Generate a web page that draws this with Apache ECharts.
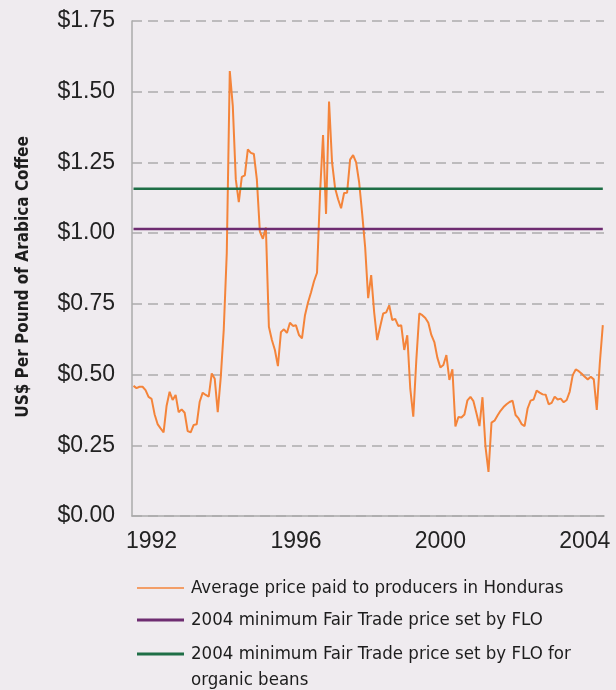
<!DOCTYPE html>
<html>
<head>
<meta charset="utf-8">
<title>Honduras coffee producer prices</title>
<script src="https://cdn.jsdelivr.net/npm/echarts@6/dist/echarts.min.js"></script>
<style>
  html, body { margin: 0; padding: 0; background: #EFEBEF; }
  #chart { width: 616px; height: 690px; }
</style>
</head>
<body>
<div id="chart"></div>
<script>
// Monthly average price paid to Honduran producers (US$ per pound), July 1991 onward
const firstYear = 1991;
const firstMonth = 7;
const producerPrice = [
  0.460, 0.452, 0.457, 0.457, 0.445, 0.421, 0.414, 0.360, 0.325, 0.310,
  0.296, 0.390, 0.439, 0.410, 0.428, 0.367, 0.377, 0.365, 0.300, 0.296,
  0.322, 0.324, 0.404, 0.436, 0.428, 0.422, 0.504, 0.485, 0.367, 0.490,
  0.660, 0.930, 1.573, 1.450, 1.190, 1.110, 1.199, 1.204, 1.296, 1.284,
  1.280, 1.190, 1.005, 0.980, 1.020, 0.669, 0.622, 0.587, 0.530, 0.650,
  0.660, 0.647, 0.683, 0.672, 0.674, 0.640, 0.628, 0.710, 0.755, 0.790,
  0.830, 0.860, 1.140, 1.347, 1.068, 1.465, 1.250, 1.160, 1.120, 1.088,
  1.142, 1.143, 1.260, 1.276, 1.250, 1.180, 1.070, 0.950, 0.770, 0.852,
  0.720, 0.622, 0.670, 0.716, 0.720, 0.745, 0.693, 0.697, 0.672, 0.674,
  0.587, 0.639, 0.450, 0.351, 0.550, 0.716, 0.710, 0.700, 0.683, 0.640,
  0.615, 0.560, 0.525, 0.534, 0.569, 0.481, 0.519, 0.317, 0.350, 0.348,
  0.359, 0.409, 0.421, 0.406, 0.363, 0.318, 0.420, 0.245, 0.156, 0.330,
  0.337, 0.355, 0.372, 0.385, 0.395, 0.403, 0.408, 0.357, 0.345, 0.325,
  0.318, 0.380, 0.408, 0.412, 0.443, 0.436, 0.430, 0.429, 0.395, 0.400,
  0.422, 0.412, 0.415, 0.402, 0.410, 0.440, 0.498, 0.518, 0.512, 0.503,
  0.492, 0.483, 0.492, 0.483, 0.375, 0.540, 0.675
];

// 2004 FLO minimum prices (US$ per pound)
const floMinimum = 1.015;
const floOrganicMinimum = 1.157;

const yearTicks = [1992, 1996, 2000, 2004];
const priceTicks = [0, 0.25, 0.5, 0.75, 1.0, 1.25, 1.5, 1.75];

const seriesNames = [
  'Average price paid to producers in Honduras',
  '2004 minimum Fair Trade price set by FLO',
  '2004 minimum Fair Trade price set by FLO for\norganic beans'
];

const colors = { price: '#F4843A', flo: '#6E2C71', organic: '#1E6E46' };

// decimal-year position of each monthly observation
const monthPos = producerPrice.map((_, i) => firstYear + (firstMonth - 1 + i) / 12);
const priceData = producerPrice.map((v, i) => [monthPos[i], v]);
const xStart = monthPos[0];
const xEnd = monthPos[monthPos.length - 1];

const narrow = '"DejaVu Sans Condensed", "Liberation Sans Narrow", "DejaVu Sans", sans-serif';
const plain = '"Liberation Sans", Arial, sans-serif';

// flat legend swatches; aspect ratio is kept so they stay thin bars.
// The two-line entry uses a swatch whose empty lower part keeps the bar level with its first line.
const thinBar = 'path://M0,0H47V1.6H0Z';
const thickBar = 'path://M0,0H47V2.8H0Z';
const thickBarTop = 'path://M0,0H47V2.8H0ZM0,28.8L47,28.8Z';

const legendText = { fontFamily: narrow, fontSize: 18.5, color: '#1d1d1d', padding: [0, 0, 0, 2] };

const chart = echarts.init(document.getElementById('chart'), null, { renderer: 'canvas' });

chart.setOption({
  backgroundColor: '#EFEBEF',
  animation: false,
  grid: { left: 132, right: 12, top: 21, bottom: 174, containLabel: false },
  legend: [
    {
      orient: 'vertical',
      left: 132,
      top: 571,
      height: 100,
      itemWidth: 47,
      itemHeight: 14,
      itemGap: 8,
      selectedMode: false,
      itemStyle: { borderWidth: 0 },
      textStyle: Object.assign({ lineHeight: 24 }, legendText),
      data: [
        { name: seriesNames[0], icon: thinBar, itemStyle: { color: colors.price } },
        { name: seriesNames[1], icon: thickBar, itemStyle: { color: colors.flo } }
      ]
    },
    {
      orient: 'vertical',
      left: 132,
      top: 636,
      height: 80,
      itemWidth: 47,
      itemHeight: 52,
      selectedMode: false,
      itemStyle: { borderWidth: 0 },
      textStyle: Object.assign({ lineHeight: 26 }, legendText),
      data: [
        { name: seriesNames[2], icon: thickBarTop, itemStyle: { color: colors.organic } }
      ]
    }
  ],
  xAxis: {
    type: 'value',
    min: 1991.458,
    max: 2004.533,
    splitLine: { show: false },
    axisTick: { show: false },
    axisLine: { show: true, lineStyle: { color: '#ababab', width: 1.5 } },
    axisLabel: {
      customValues: yearTicks,
      formatter: v => String(Math.round(v)),
      fontFamily: plain,
      fontSize: 23,
      color: '#222',
      margin: 14
    }
  },
  yAxis: {
    type: 'value',
    min: 0,
    max: 1.75,
    interval: 0.25,
    name: 'US$ Per Pound of Arabica Coffee',
    nameLocation: 'middle',
    nameGap: 100,
    nameTextStyle: {
      fontFamily: narrow,
      fontWeight: 'bold',
      fontSize: 17,
      color: '#1d1d1d',
      padding: [0, 17, 0, 0]
    },
    axisLine: { show: true, lineStyle: { color: '#ababab', width: 1.5 } },
    axisTick: { show: false },
    splitLine: {
      show: true,
      lineStyle: { color: '#bdbbbd', width: 2, type: [10, 6] }
    },
    axisLabel: {
      customValues: priceTicks,
      formatter: v => '$' + v.toFixed(2),
      fontFamily: plain,
      fontSize: 23,
      color: '#222',
      margin: 17
    }
  },
  series: [
    {
      name: seriesNames[0],
      type: 'line',
      data: priceData,
      symbol: 'none',
      lineStyle: { color: colors.price, width: 2 },
      itemStyle: { color: colors.price }
    },
    {
      name: seriesNames[1],
      type: 'line',
      data: [[xStart, floMinimum], [xEnd, floMinimum]],
      symbol: 'none',
      lineStyle: { color: colors.flo, width: 2.5 },
      itemStyle: { color: colors.flo }
    },
    {
      name: seriesNames[2],
      type: 'line',
      data: [[xStart, floOrganicMinimum], [xEnd, floOrganicMinimum]],
      symbol: 'none',
      lineStyle: { color: colors.organic, width: 2.5 },
      itemStyle: { color: colors.organic }
    }
  ]
});
</script>
</body>
</html>
